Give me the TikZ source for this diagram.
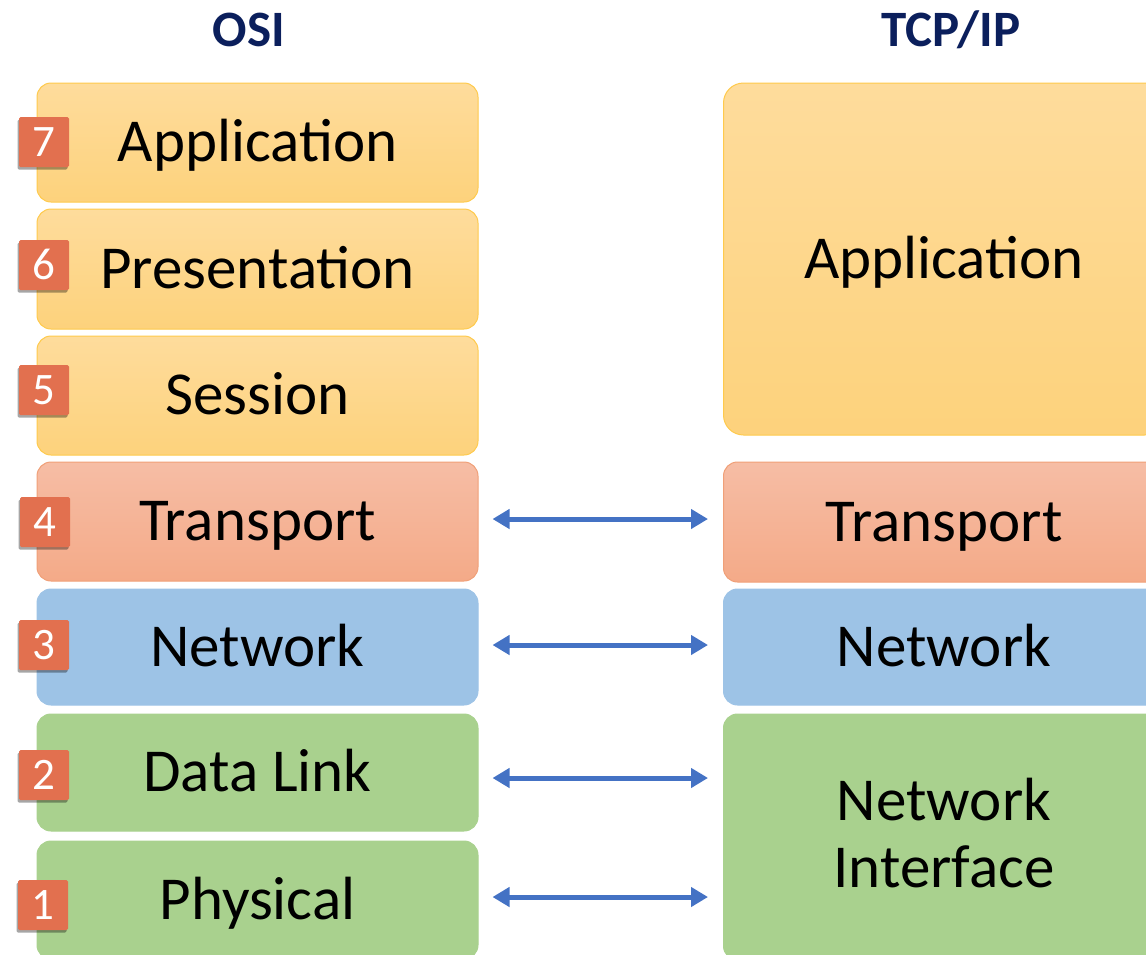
\documentclass[tikz,border=0pt]{standalone}
\usepackage{fontspec}
\setmainfont{Carlito}
\usetikzlibrary{arrows.meta,shadows}
\definecolor{yelTop}{HTML}{FEDC9C}
\definecolor{yelBot}{HTML}{FDD27C}
\definecolor{yelLine}{HTML}{FFCA4C}
\definecolor{orTop}{HTML}{F6BDA5}
\definecolor{orBot}{HTML}{F4AA88}
\definecolor{orLine}{HTML}{F0A078}
\definecolor{blueFill}{HTML}{9DC3E6}
\definecolor{greenFill}{HTML}{A9D18E}
\definecolor{badgeC}{HTML}{E2704F}
\definecolor{navy}{HTML}{0B1F5C}
\definecolor{arrowC}{HTML}{4472C4}
\begin{document}
\begin{tikzpicture}[x=1pt,y=-1pt,
  layer/.style={rounded corners=14pt, minimum width=441pt, inner sep=0pt,
    line width=1pt, text height=45.5pt, text depth=6.7pt,
    font=\fontsize{61}{67}\selectfont},
  upper/.style={layer, top color=yelTop, bottom color=yelBot, draw=yelLine},
  trans/.style={layer, top color=orTop, bottom color=orBot, draw=orLine},
  netw/.style={layer, fill=blueFill, draw=blueFill},
  link/.style={layer, fill=greenFill, draw=greenFill},
  badge/.style={fill=badgeC, minimum size=50pt, inner sep=0pt, rounded corners=1.5pt,
    text=white, font=\fontsize{45}{45}\selectfont, text height=28.4pt, text depth=0pt,
    drop shadow={shadow xshift=-1.5pt, shadow yshift=-2.5pt, opacity=0.35, fill=black}},
  title/.style={anchor=base, text=navy, font=\fontsize{51}{53}\selectfont\bfseries},
  arr/.style={draw=arrowC, line width=5pt,
    {Triangle[length=17pt,width=19pt]}-{Triangle[length=17pt,width=19pt]}}
]
\useasboundingbox (0,0) rectangle (1146,954);
\clip (0,0) rectangle (1146,954);

% titles
\node[title] (tOSI) at (249,46) {OSI};
\node[title] (tTCP) at (951,46) {TCP/IP};

% OSI layers
\node[upper, minimum height=119pt] (l7) at (257.5,142.5) {Application};
\node[upper, minimum height=120pt] (l6) at (257.5,269) {Presentation};
\node[upper, minimum height=119pt] (l5) at (257.5,395.5) {Session};
\node[trans, minimum height=119pt] (l4) at (257.5,521.5) {Transport};
\node[netw, minimum height=116pt] (l3) at (257.5,647) {Network};
\node[link, minimum height=117pt] (l2) at (257.5,772.5) {Data Link};
\node[link, minimum height=118pt] (l1) at (257.5,900) {Physical};

% badges
\node[badge] (b7) at (44,142) {7};
\node[badge] (b6) at (44,265) {6};
\node[badge] (b5) at (44,390) {5};
\node[badge] (b4) at (45,522) {4};
\node[badge] (b3) at (44,645) {3};
\node[badge] (b2) at (44,775) {2};
\node[badge] (b1) at (43,905) {1};

% TCP/IP layers
\node[upper, rounded corners=20pt, minimum height=352pt] (rA) at (944,259) {Application};
\node[trans, minimum height=120pt] (rT) at (944,522) {Transport};
\node[netw, minimum height=116pt] (rN) at (944,647) {Network};
\node[link, minimum height=246pt, align=center, text height=107pt, text depth=6.4pt]
  (rI) at (944,837) {Network\\Interface};

% connectors
\draw[arr] ([xshift=14pt,yshift=2.5pt]l4.east) -- ([xshift=-15pt,yshift=3pt]rT.west);
\draw[arr] ([xshift=14pt,yshift=2pt]l3.east) -- ([xshift=-15pt,yshift=2pt]rN.west);
\draw[arr] ([xshift=14pt,yshift=-5.5pt]l2.east) -- ([xshift=-15pt,yshift=59pt]rI.west);
\draw[arr] ([xshift=14pt,yshift=3pt]l1.east) -- ([xshift=-15pt,yshift=-60pt]rI.west);
\end{tikzpicture}
\end{document}
